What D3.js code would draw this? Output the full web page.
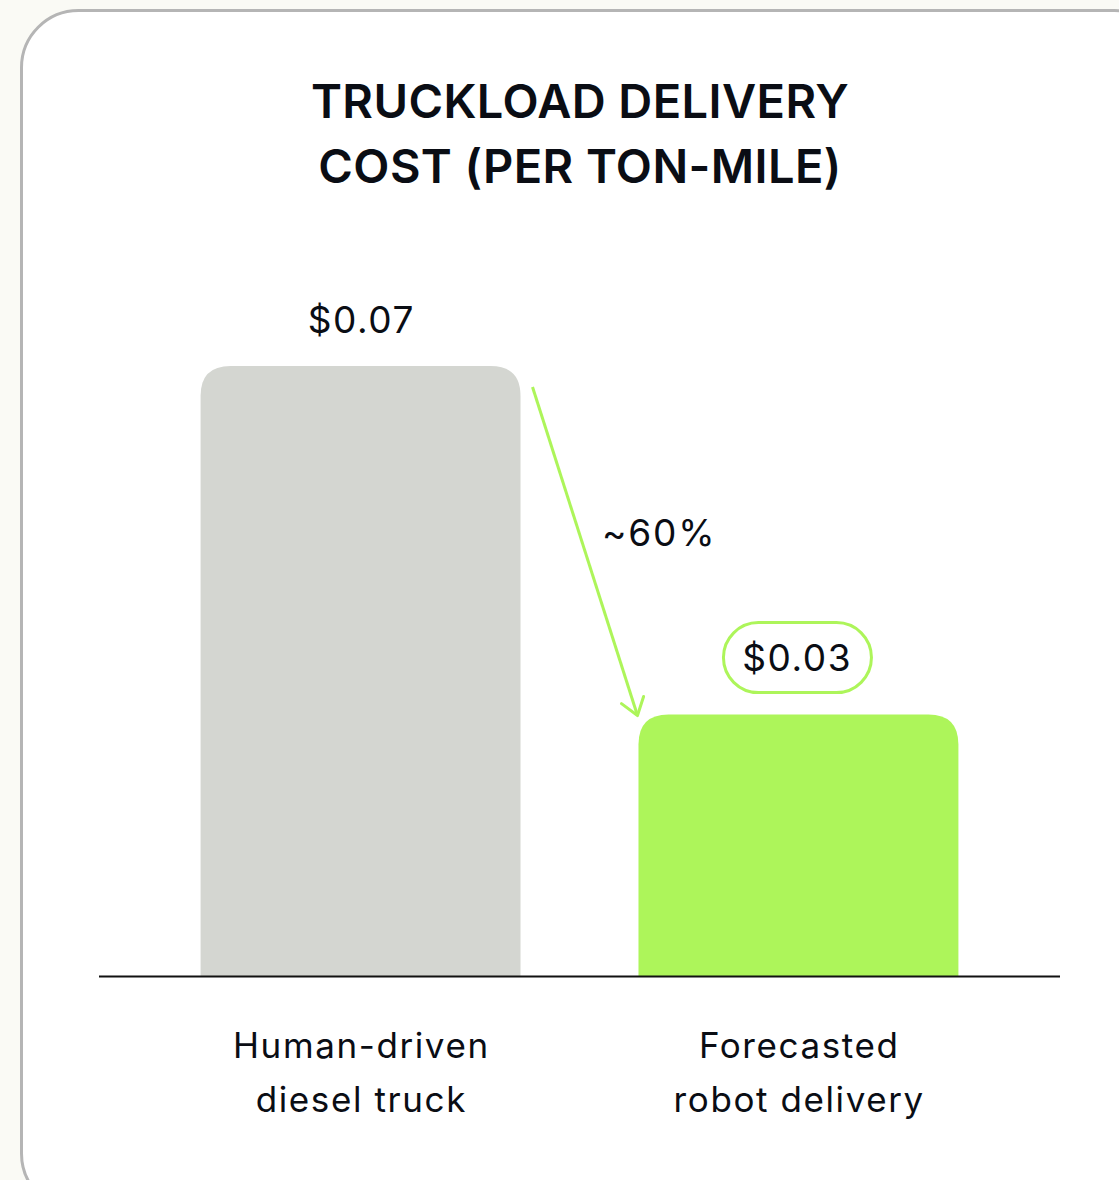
<!DOCTYPE html>
<html><head><meta charset="utf-8">
<script src="https://cdn.jsdelivr.net/npm/d3@7"></script>
<style>html,body{margin:0;padding:0;background:#fafaf5;}svg{display:block;}</style>
</head><body>
<script>
const categories = ["Human-driven\ndiesel truck", "Forecasted\nrobot delivery"];
const values = [0.07, 0.03];
const valueLabels = ["$0.07", "$0.03"];
const changeLabel = "~60%";
const titleLines = ["TRUCKLOAD DELIVERY", "COST (PER TON-MILE)"];

const W = 1119, H = 1180;
const svg = d3.select("body").append("svg").attr("width", W).attr("height", H);
const font = "Inter, 'Open Sans', sans-serif";
const ink = "#0a0d14";

// card
svg.append("rect").attr("x", 21.5).attr("y", 10.5).attr("width", 1150).attr("height", 1200)
  .attr("rx", 57).attr("fill", "#ffffff").attr("stroke", "#b5b5b5").attr("stroke-width", 3);

// title
svg.append("text").attr("text-anchor", "middle")
  .attr("font-family", font).attr("font-weight", 600).attr("font-size", 47).attr("letter-spacing", 0.4).attr("fill", ink)
  .selectAll("tspan").data(titleLines).join("tspan")
  .attr("x", 580).attr("y", (d, i) => 118 + i * 65).text(d => d);

const x = d3.scaleBand().domain(categories).range([99, 1060]).paddingInner(0.2694).paddingOuter(0.232);
const y = d3.scaleLinear().domain([0, 0.07]).range([976, 366]);
const colors = ["#d4d6d1", "#adf55a"];
const r = 30;

function topRounded(x0, y0, w, h, r) {
  return `M${x0},${y0 + h}V${y0 + r}Q${x0},${y0} ${x0 + r},${y0}H${x0 + w - r}Q${x0 + w},${y0} ${x0 + w},${y0 + r}V${y0 + h}Z`;
}

svg.selectAll("path.bar").data(values).join("path").attr("class", "bar")
  .attr("d", (d, i) => topRounded(x(categories[i]), y(d), x.bandwidth(), y(0) - y(d), r))
  .attr("fill", (d, i) => colors[i]);

// baseline
svg.append("line").attr("x1", 99).attr("x2", 1060).attr("y1", y(0) + 0.5).attr("y2", y(0) + 0.5)
  .attr("stroke", "#111").attr("stroke-width", 2);

const cx = i => x(categories[i]) + x.bandwidth() / 2;
const ls = 1.6;

// value labels
svg.append("text").attr("x", cx(0) + ls / 2).attr("y", y(values[0]) - 33).attr("text-anchor", "middle")
  .attr("font-family", font).attr("font-size", 37).attr("letter-spacing", ls).attr("fill", ink).text(valueLabels[0]);

svg.append("rect").attr("x", cx(1) - 75).attr("y", y(values[1]) - 92).attr("width", 148).attr("height", 70)
  .attr("rx", 35).attr("fill", "#fff").attr("stroke", "#adf55a").attr("stroke-width", 3);
svg.append("text").attr("x", cx(1) - 2 + ls / 2).attr("y", y(values[1]) - 44).attr("text-anchor", "middle")
  .attr("font-family", font).attr("font-size", 37).attr("letter-spacing", ls).attr("fill", ink).text(valueLabels[1]);

// arrow
const ax1 = x(categories[0]) + x.bandwidth() + 12, ay1 = y(values[0]) + 21;
const ax2 = x(categories[1]) - 1, ay2 = y(values[1]) + 1;
svg.append("line").attr("x1", ax1).attr("y1", ay1).attr("x2", ax2).attr("y2", ay2)
  .attr("stroke", "#adf55a").attr("stroke-width", 3);
const ang = Math.atan2(ay2 - ay1, ax2 - ax1);
const hl = 20, ha = 0.62;
svg.append("path")
  .attr("d", `M${ax2 - hl * Math.cos(ang - ha)},${ay2 - hl * Math.sin(ang - ha)}L${ax2},${ay2}L${ax2 - hl * Math.cos(ang + ha)},${ay2 - hl * Math.sin(ang + ha)}`)
  .attr("fill", "none").attr("stroke", "#adf55a").attr("stroke-width", 3).attr("stroke-linecap", "round").attr("stroke-linejoin", "round");

svg.append("text").attr("x", 602).attr("y", 546)
  .attr("font-family", font).attr("font-size", 37).attr("letter-spacing", 1.8).attr("fill", ink).text(changeLabel);

// category labels
const cls = 1.6;
categories.forEach((c, i) => {
  svg.append("text").attr("text-anchor", "middle")
    .attr("font-family", font).attr("font-size", 35).attr("letter-spacing", cls).attr("fill", ink)
    .selectAll("tspan").data(c.split("\n")).join("tspan")
    .attr("x", cx(i) + cls / 2).attr("y", (d, j) => 1058 + j * 54).text(d => d);
});
</script>
</body></html>
